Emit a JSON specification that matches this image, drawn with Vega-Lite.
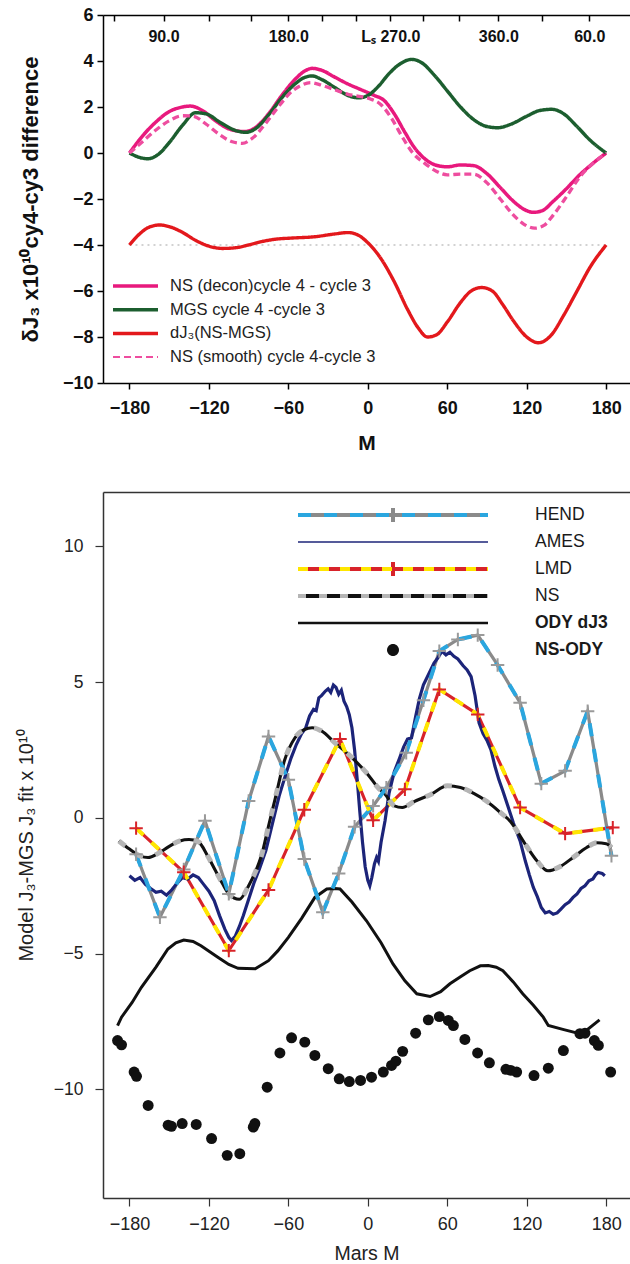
{
  "$schema": "https://vega.github.io/schema/vega-lite/v6.json",
  "padding": {"left": 16, "top": 6, "right": 0, "bottom": 2},
  "background": "white",
  "config": {
    "view": {"stroke": null},
    "font": "Liberation Sans",
    "axis": {"grid": false, "domainColor": "#000", "tickColor": "#000", "labelColor": "#111", "titleColor": "#111", "labelFont": "Liberation Sans", "titleFont": "Liberation Sans"},
    "legend": {"labelFont": "Liberation Sans"}
  },
  "datasets": {
    "a": [
      {"s":"NS (decon)cycle 4 - cycle 3","M":-180,"v":0},{"s":"NS (decon)cycle 4 - cycle 3","M":-170,"v":0.75},{"s":"NS (decon)cycle 4 - cycle 3","M":-160,"v":1.35},{"s":"NS (decon)cycle 4 - cycle 3","M":-150,"v":1.8},{"s":"NS (decon)cycle 4 - cycle 3","M":-140,"v":2.0},{"s":"NS (decon)cycle 4 - cycle 3","M":-134,"v":2.04},{"s":"NS (decon)cycle 4 - cycle 3","M":-125,"v":1.85},{"s":"NS (decon)cycle 4 - cycle 3","M":-115,"v":1.4},{"s":"NS (decon)cycle 4 - cycle 3","M":-105,"v":1.05},{"s":"NS (decon)cycle 4 - cycle 3","M":-93,"v":0.93},{"s":"NS (decon)cycle 4 - cycle 3","M":-85,"v":1.1},{"s":"NS (decon)cycle 4 - cycle 3","M":-75,"v":1.7},{"s":"NS (decon)cycle 4 - cycle 3","M":-65,"v":2.5},{"s":"NS (decon)cycle 4 - cycle 3","M":-55,"v":3.2},{"s":"NS (decon)cycle 4 - cycle 3","M":-48,"v":3.55},{"s":"NS (decon)cycle 4 - cycle 3","M":-42,"v":3.68},{"s":"NS (decon)cycle 4 - cycle 3","M":-35,"v":3.6},{"s":"NS (decon)cycle 4 - cycle 3","M":-25,"v":3.3},{"s":"NS (decon)cycle 4 - cycle 3","M":-15,"v":3.0},{"s":"NS (decon)cycle 4 - cycle 3","M":-5,"v":2.75},{"s":"NS (decon)cycle 4 - cycle 3","M":5,"v":2.5},{"s":"NS (decon)cycle 4 - cycle 3","M":12,"v":2.3},{"s":"NS (decon)cycle 4 - cycle 3","M":20,"v":1.7},{"s":"NS (decon)cycle 4 - cycle 3","M":28,"v":0.9},{"s":"NS (decon)cycle 4 - cycle 3","M":35,"v":0.25},{"s":"NS (decon)cycle 4 - cycle 3","M":42,"v":-0.2},{"s":"NS (decon)cycle 4 - cycle 3","M":50,"v":-0.5},{"s":"NS (decon)cycle 4 - cycle 3","M":60,"v":-0.6},{"s":"NS (decon)cycle 4 - cycle 3","M":70,"v":-0.52},{"s":"NS (decon)cycle 4 - cycle 3","M":80,"v":-0.55},{"s":"NS (decon)cycle 4 - cycle 3","M":90,"v":-0.9},{"s":"NS (decon)cycle 4 - cycle 3","M":100,"v":-1.5},{"s":"NS (decon)cycle 4 - cycle 3","M":110,"v":-2.1},{"s":"NS (decon)cycle 4 - cycle 3","M":118,"v":-2.45},{"s":"NS (decon)cycle 4 - cycle 3","M":125,"v":-2.58},{"s":"NS (decon)cycle 4 - cycle 3","M":132,"v":-2.5},{"s":"NS (decon)cycle 4 - cycle 3","M":140,"v":-2.1},{"s":"NS (decon)cycle 4 - cycle 3","M":150,"v":-1.55},{"s":"NS (decon)cycle 4 - cycle 3","M":160,"v":-0.95},{"s":"NS (decon)cycle 4 - cycle 3","M":170,"v":-0.45},{"s":"NS (decon)cycle 4 - cycle 3","M":180,"v":0},
      {"s":"MGS cycle 4 -cycle 3","M":-180,"v":0},{"s":"MGS cycle 4 -cycle 3","M":-172,"v":-0.2},{"s":"MGS cycle 4 -cycle 3","M":-166,"v":-0.25},{"s":"MGS cycle 4 -cycle 3","M":-158,"v":-0.05},{"s":"MGS cycle 4 -cycle 3","M":-150,"v":0.45},{"s":"MGS cycle 4 -cycle 3","M":-140,"v":1.2},{"s":"MGS cycle 4 -cycle 3","M":-130,"v":1.75},{"s":"MGS cycle 4 -cycle 3","M":-122,"v":1.7},{"s":"MGS cycle 4 -cycle 3","M":-112,"v":1.35},{"s":"MGS cycle 4 -cycle 3","M":-100,"v":0.98},{"s":"MGS cycle 4 -cycle 3","M":-92,"v":0.9},{"s":"MGS cycle 4 -cycle 3","M":-85,"v":1.05},{"s":"MGS cycle 4 -cycle 3","M":-75,"v":1.65},{"s":"MGS cycle 4 -cycle 3","M":-65,"v":2.4},{"s":"MGS cycle 4 -cycle 3","M":-55,"v":3.0},{"s":"MGS cycle 4 -cycle 3","M":-48,"v":3.28},{"s":"MGS cycle 4 -cycle 3","M":-42,"v":3.35},{"s":"MGS cycle 4 -cycle 3","M":-35,"v":3.2},{"s":"MGS cycle 4 -cycle 3","M":-25,"v":2.85},{"s":"MGS cycle 4 -cycle 3","M":-15,"v":2.5},{"s":"MGS cycle 4 -cycle 3","M":-7,"v":2.4},{"s":"MGS cycle 4 -cycle 3","M":0,"v":2.5},{"s":"MGS cycle 4 -cycle 3","M":8,"v":2.9},{"s":"MGS cycle 4 -cycle 3","M":16,"v":3.45},{"s":"MGS cycle 4 -cycle 3","M":25,"v":3.9},{"s":"MGS cycle 4 -cycle 3","M":33,"v":4.07},{"s":"MGS cycle 4 -cycle 3","M":40,"v":3.95},{"s":"MGS cycle 4 -cycle 3","M":50,"v":3.4},{"s":"MGS cycle 4 -cycle 3","M":60,"v":2.7},{"s":"MGS cycle 4 -cycle 3","M":70,"v":2.0},{"s":"MGS cycle 4 -cycle 3","M":80,"v":1.45},{"s":"MGS cycle 4 -cycle 3","M":90,"v":1.15},{"s":"MGS cycle 4 -cycle 3","M":98,"v":1.1},{"s":"MGS cycle 4 -cycle 3","M":108,"v":1.25},{"s":"MGS cycle 4 -cycle 3","M":120,"v":1.6},{"s":"MGS cycle 4 -cycle 3","M":130,"v":1.85},{"s":"MGS cycle 4 -cycle 3","M":139,"v":1.9},{"s":"MGS cycle 4 -cycle 3","M":148,"v":1.7},{"s":"MGS cycle 4 -cycle 3","M":158,"v":1.15},{"s":"MGS cycle 4 -cycle 3","M":168,"v":0.55},{"s":"MGS cycle 4 -cycle 3","M":180,"v":0},
      {"s":"dJ₃(NS-MGS)","M":-180,"v":-4.0},{"s":"dJ₃(NS-MGS)","M":-172,"v":-3.5},{"s":"dJ₃(NS-MGS)","M":-165,"v":-3.22},{"s":"dJ₃(NS-MGS)","M":-157,"v":-3.13},{"s":"dJ₃(NS-MGS)","M":-150,"v":-3.2},{"s":"dJ₃(NS-MGS)","M":-140,"v":-3.45},{"s":"dJ₃(NS-MGS)","M":-130,"v":-3.8},{"s":"dJ₃(NS-MGS)","M":-120,"v":-4.05},{"s":"dJ₃(NS-MGS)","M":-110,"v":-4.15},{"s":"dJ₃(NS-MGS)","M":-100,"v":-4.12},{"s":"dJ₃(NS-MGS)","M":-90,"v":-4.0},{"s":"dJ₃(NS-MGS)","M":-80,"v":-3.85},{"s":"dJ₃(NS-MGS)","M":-70,"v":-3.75},{"s":"dJ₃(NS-MGS)","M":-58,"v":-3.7},{"s":"dJ₃(NS-MGS)","M":-40,"v":-3.64},{"s":"dJ₃(NS-MGS)","M":-25,"v":-3.52},{"s":"dJ₃(NS-MGS)","M":-15,"v":-3.46},{"s":"dJ₃(NS-MGS)","M":-8,"v":-3.55},{"s":"dJ₃(NS-MGS)","M":0,"v":-3.9},{"s":"dJ₃(NS-MGS)","M":10,"v":-4.6},{"s":"dJ₃(NS-MGS)","M":20,"v":-5.6},{"s":"dJ₃(NS-MGS)","M":30,"v":-6.8},{"s":"dJ₃(NS-MGS)","M":38,"v":-7.6},{"s":"dJ₃(NS-MGS)","M":45,"v":-8.0},{"s":"dJ₃(NS-MGS)","M":52,"v":-7.9},{"s":"dJ₃(NS-MGS)","M":60,"v":-7.35},{"s":"dJ₃(NS-MGS)","M":70,"v":-6.5},{"s":"dJ₃(NS-MGS)","M":78,"v":-6.0},{"s":"dJ₃(NS-MGS)","M":86,"v":-5.85},{"s":"dJ₃(NS-MGS)","M":94,"v":-6.0},{"s":"dJ₃(NS-MGS)","M":102,"v":-6.6},{"s":"dJ₃(NS-MGS)","M":110,"v":-7.3},{"s":"dJ₃(NS-MGS)","M":120,"v":-8.0},{"s":"dJ₃(NS-MGS)","M":129,"v":-8.25},{"s":"dJ₃(NS-MGS)","M":138,"v":-7.95},{"s":"dJ₃(NS-MGS)","M":148,"v":-7.05},{"s":"dJ₃(NS-MGS)","M":158,"v":-6.0},{"s":"dJ₃(NS-MGS)","M":168,"v":-4.95},{"s":"dJ₃(NS-MGS)","M":180,"v":-4.0},
      {"s":"NS (smooth) cycle 4-cycle 3","M":-180,"v":0},{"s":"NS (smooth) cycle 4-cycle 3","M":-170,"v":0.5},{"s":"NS (smooth) cycle 4-cycle 3","M":-160,"v":1.0},{"s":"NS (smooth) cycle 4-cycle 3","M":-150,"v":1.4},{"s":"NS (smooth) cycle 4-cycle 3","M":-140,"v":1.62},{"s":"NS (smooth) cycle 4-cycle 3","M":-132,"v":1.6},{"s":"NS (smooth) cycle 4-cycle 3","M":-122,"v":1.25},{"s":"NS (smooth) cycle 4-cycle 3","M":-112,"v":0.8},{"s":"NS (smooth) cycle 4-cycle 3","M":-103,"v":0.5},{"s":"NS (smooth) cycle 4-cycle 3","M":-95,"v":0.42},{"s":"NS (smooth) cycle 4-cycle 3","M":-87,"v":0.65},{"s":"NS (smooth) cycle 4-cycle 3","M":-77,"v":1.3},{"s":"NS (smooth) cycle 4-cycle 3","M":-67,"v":2.05},{"s":"NS (smooth) cycle 4-cycle 3","M":-57,"v":2.7},{"s":"NS (smooth) cycle 4-cycle 3","M":-50,"v":2.95},{"s":"NS (smooth) cycle 4-cycle 3","M":-43,"v":3.06},{"s":"NS (smooth) cycle 4-cycle 3","M":-35,"v":2.95},{"s":"NS (smooth) cycle 4-cycle 3","M":-25,"v":2.75},{"s":"NS (smooth) cycle 4-cycle 3","M":-15,"v":2.55},{"s":"NS (smooth) cycle 4-cycle 3","M":-5,"v":2.45},{"s":"NS (smooth) cycle 4-cycle 3","M":2,"v":2.35},{"s":"NS (smooth) cycle 4-cycle 3","M":10,"v":2.1},{"s":"NS (smooth) cycle 4-cycle 3","M":18,"v":1.5},{"s":"NS (smooth) cycle 4-cycle 3","M":26,"v":0.7},{"s":"NS (smooth) cycle 4-cycle 3","M":34,"v":0.0},{"s":"NS (smooth) cycle 4-cycle 3","M":43,"v":-0.45},{"s":"NS (smooth) cycle 4-cycle 3","M":52,"v":-0.8},{"s":"NS (smooth) cycle 4-cycle 3","M":60,"v":-0.95},{"s":"NS (smooth) cycle 4-cycle 3","M":70,"v":-0.92},{"s":"NS (smooth) cycle 4-cycle 3","M":80,"v":-0.92},{"s":"NS (smooth) cycle 4-cycle 3","M":90,"v":-1.3},{"s":"NS (smooth) cycle 4-cycle 3","M":100,"v":-2.0},{"s":"NS (smooth) cycle 4-cycle 3","M":110,"v":-2.7},{"s":"NS (smooth) cycle 4-cycle 3","M":118,"v":-3.1},{"s":"NS (smooth) cycle 4-cycle 3","M":126,"v":-3.27},{"s":"NS (smooth) cycle 4-cycle 3","M":133,"v":-3.15},{"s":"NS (smooth) cycle 4-cycle 3","M":140,"v":-2.7},{"s":"NS (smooth) cycle 4-cycle 3","M":150,"v":-1.9},{"s":"NS (smooth) cycle 4-cycle 3","M":160,"v":-1.05},{"s":"NS (smooth) cycle 4-cycle 3","M":170,"v":-0.45},{"s":"NS (smooth) cycle 4-cycle 3","M":180,"v":0}
    ],
    "b": [
      {"s":"HEND","M":-175,"v":-1.34},{"s":"HEND","M":-157,"v":-3.66},{"s":"HEND","M":-139,"v":-1.9},{"s":"HEND","M":-123,"v":-0.11},{"s":"HEND","M":-105,"v":-2.8},{"s":"HEND","M":-90,"v":0.62},{"s":"HEND","M":-75,"v":3.0},{"s":"HEND","M":-60,"v":1.4},{"s":"HEND","M":-48,"v":-1.52},{"s":"HEND","M":-34,"v":-3.48},{"s":"HEND","M":-22,"v":-2.05},{"s":"HEND","M":-10,"v":-0.33},{"s":"HEND","M":4,"v":0.44},{"s":"HEND","M":14,"v":1.11},{"s":"HEND","M":29,"v":2.4},{"s":"HEND","M":42,"v":4.33},{"s":"HEND","M":54,"v":6.14},{"s":"HEND","M":68,"v":6.57},{"s":"HEND","M":83,"v":6.73},{"s":"HEND","M":98,"v":5.63},{"s":"HEND","M":115,"v":4.24},{"s":"HEND","M":131,"v":1.26},{"s":"HEND","M":149,"v":1.73},{"s":"HEND","M":166,"v":3.93},{"s":"HEND","M":184,"v":-1.4},
      {"s":"LMD","M":-175,"v":-0.38},{"s":"LMD","M":-139,"v":-2.0},{"s":"LMD","M":-105,"v":-4.89},{"s":"LMD","M":-75,"v":-2.66},{"s":"LMD","M":-48,"v":0.3},{"s":"LMD","M":-21,"v":2.9},{"s":"LMD","M":4,"v":-0.09},{"s":"LMD","M":28,"v":1.05},{"s":"LMD","M":54,"v":4.73},{"s":"LMD","M":83,"v":3.81},{"s":"LMD","M":115,"v":0.38},{"s":"LMD","M":149,"v":-0.58},{"s":"LMD","M":185,"v":-0.36},
      {"s":"NS","M":-188,"v":-0.85},{"s":"NS","M":-180,"v":-1.15},{"s":"NS","M":-172,"v":-1.4},{"s":"NS","M":-166,"v":-1.46},{"s":"NS","M":-158,"v":-1.3},{"s":"NS","M":-150,"v":-1.05},{"s":"NS","M":-142,"v":-0.85},{"s":"NS","M":-135,"v":-0.8},{"s":"NS","M":-128,"v":-0.88},{"s":"NS","M":-121,"v":-1.4},{"s":"NS","M":-115,"v":-1.95},{"s":"NS","M":-110,"v":-2.4},{"s":"NS","M":-105,"v":-2.8},{"s":"NS","M":-97,"v":-3.0},{"s":"NS","M":-90,"v":-2.5},{"s":"NS","M":-85,"v":-2.0},{"s":"NS","M":-80,"v":-1.33},{"s":"NS","M":-75,"v":-0.3},{"s":"NS","M":-70,"v":0.7},{"s":"NS","M":-63,"v":2.1},{"s":"NS","M":-55,"v":2.95},{"s":"NS","M":-48,"v":3.25},{"s":"NS","M":-42,"v":3.32},{"s":"NS","M":-35,"v":3.2},{"s":"NS","M":-25,"v":2.77},{"s":"NS","M":-12,"v":2.22},{"s":"NS","M":0,"v":1.6},{"s":"NS","M":8,"v":1.1},{"s":"NS","M":13,"v":0.87},{"s":"NS","M":20,"v":0.44},{"s":"NS","M":26,"v":0.38},{"s":"NS","M":35,"v":0.6},{"s":"NS","M":48,"v":0.87},{"s":"NS","M":60,"v":1.18},{"s":"NS","M":70,"v":1.12},{"s":"NS","M":80,"v":0.9},{"s":"NS","M":90,"v":0.6},{"s":"NS","M":100,"v":0.2},{"s":"NS","M":108,"v":-0.15},{"s":"NS","M":118,"v":-0.9},{"s":"NS","M":128,"v":-1.6},{"s":"NS","M":136,"v":-1.95},{"s":"NS","M":145,"v":-1.8},{"s":"NS","M":155,"v":-1.46},{"s":"NS","M":165,"v":-1.1},{"s":"NS","M":173,"v":-0.92},{"s":"NS","M":180,"v":-0.95},{"s":"NS","M":184,"v":-1.09},
      {"s":"AMES","M":-180,"v":-2.13},{"s":"AMES","M":-176,"v":-2.3},{"s":"AMES","M":-172,"v":-2.2},{"s":"AMES","M":-168,"v":-2.45},{"s":"AMES","M":-164,"v":-2.6},{"s":"AMES","M":-160,"v":-2.74},{"s":"AMES","M":-156,"v":-2.7},{"s":"AMES","M":-152,"v":-2.85},{"s":"AMES","M":-148,"v":-2.65},{"s":"AMES","M":-144,"v":-2.4},{"s":"AMES","M":-140,"v":-2.2},{"s":"AMES","M":-136,"v":-2.25},{"s":"AMES","M":-132,"v":-2.1},{"s":"AMES","M":-128,"v":-2.2},{"s":"AMES","M":-124,"v":-2.45},{"s":"AMES","M":-120,"v":-2.7},{"s":"AMES","M":-116,"v":-3.05},{"s":"AMES","M":-112,"v":-3.6},{"s":"AMES","M":-108,"v":-4.1},{"s":"AMES","M":-105,"v":-4.4},{"s":"AMES","M":-103,"v":-4.52},{"s":"AMES","M":-100,"v":-4.35},{"s":"AMES","M":-97,"v":-4.0},{"s":"AMES","M":-94,"v":-3.6},{"s":"AMES","M":-90,"v":-3.0},{"s":"AMES","M":-86,"v":-2.4},{"s":"AMES","M":-82,"v":-1.9},{"s":"AMES","M":-77,"v":-1.2},{"s":"AMES","M":-72,"v":-0.2},{"s":"AMES","M":-67,"v":0.8},{"s":"AMES","M":-62,"v":1.6},{"s":"AMES","M":-58,"v":2.2},{"s":"AMES","M":-54,"v":2.7},{"s":"AMES","M":-50,"v":3.1},{"s":"AMES","M":-47,"v":3.3},{"s":"AMES","M":-44,"v":3.75},{"s":"AMES","M":-41,"v":4.0},{"s":"AMES","M":-39,"v":3.95},{"s":"AMES","M":-37,"v":4.42},{"s":"AMES","M":-35,"v":4.5},{"s":"AMES","M":-32,"v":4.67},{"s":"AMES","M":-30,"v":4.75},{"s":"AMES","M":-28,"v":4.62},{"s":"AMES","M":-26,"v":4.89},{"s":"AMES","M":-24,"v":4.8},{"s":"AMES","M":-22,"v":4.55},{"s":"AMES","M":-20,"v":4.7},{"s":"AMES","M":-18,"v":4.3},{"s":"AMES","M":-16,"v":4.1},{"s":"AMES","M":-14,"v":3.8},{"s":"AMES","M":-12,"v":3.32},{"s":"AMES","M":-10,"v":2.5},{"s":"AMES","M":-8,"v":1.4},{"s":"AMES","M":-6,"v":0.2},{"s":"AMES","M":-4,"v":-0.9},{"s":"AMES","M":-2,"v":-1.8},{"s":"AMES","M":0,"v":-2.3},{"s":"AMES","M":1.5,"v":-2.5},{"s":"AMES","M":3,"v":-2.2},{"s":"AMES","M":5,"v":-1.7},{"s":"AMES","M":6.6,"v":-1.46},{"s":"AMES","M":8,"v":-1.6},{"s":"AMES","M":10,"v":-0.9},{"s":"AMES","M":13,"v":-0.11},{"s":"AMES","M":16,"v":0.9},{"s":"AMES","M":20,"v":1.7},{"s":"AMES","M":24,"v":2.2},{"s":"AMES","M":27,"v":2.6},{"s":"AMES","M":30,"v":2.9},{"s":"AMES","M":33,"v":2.95},{"s":"AMES","M":36,"v":3.7},{"s":"AMES","M":39,"v":4.4},{"s":"AMES","M":42,"v":4.9},{"s":"AMES","M":46,"v":5.3},{"s":"AMES","M":50,"v":5.7},{"s":"AMES","M":53,"v":5.9},{"s":"AMES","M":56,"v":6.14},{"s":"AMES","M":59,"v":6.0},{"s":"AMES","M":62,"v":6.1},{"s":"AMES","M":65,"v":5.95},{"s":"AMES","M":68,"v":5.85},{"s":"AMES","M":72,"v":5.6},{"s":"AMES","M":75,"v":5.45},{"s":"AMES","M":78,"v":5.2},{"s":"AMES","M":81,"v":4.5},{"s":"AMES","M":84,"v":3.5},{"s":"AMES","M":87,"v":3.1},{"s":"AMES","M":90,"v":2.85},{"s":"AMES","M":93,"v":2.5},{"s":"AMES","M":96,"v":1.9},{"s":"AMES","M":99,"v":1.4},{"s":"AMES","M":102,"v":0.99},{"s":"AMES","M":106,"v":0.4},{"s":"AMES","M":110,"v":-0.2},{"s":"AMES","M":115,"v":-0.85},{"s":"AMES","M":119,"v":-1.6},{"s":"AMES","M":122,"v":-2.1},{"s":"AMES","M":125,"v":-2.56},{"s":"AMES","M":128,"v":-2.9},{"s":"AMES","M":131,"v":-3.3},{"s":"AMES","M":134,"v":-3.5},{"s":"AMES","M":137,"v":-3.45},{"s":"AMES","M":140,"v":-3.55},{"s":"AMES","M":143,"v":-3.5},{"s":"AMES","M":146,"v":-3.35},{"s":"AMES","M":149,"v":-3.2},{"s":"AMES","M":152,"v":-3.1},{"s":"AMES","M":155,"v":-2.93},{"s":"AMES","M":158,"v":-2.8},{"s":"AMES","M":161,"v":-2.6},{"s":"AMES","M":164,"v":-2.5},{"s":"AMES","M":167,"v":-2.32},{"s":"AMES","M":170,"v":-2.25},{"s":"AMES","M":172,"v":-2.1},{"s":"AMES","M":174,"v":-2.01},{"s":"AMES","M":177,"v":-2.05},{"s":"AMES","M":179,"v":-2.13},
      {"s":"ODY dJ3","M":-189,"v":-7.65},{"s":"ODY dJ3","M":-186,"v":-7.34},{"s":"ODY dJ3","M":-178,"v":-6.8},{"s":"ODY dJ3","M":-171,"v":-6.24},{"s":"ODY dJ3","M":-160,"v":-5.5},{"s":"ODY dJ3","M":-151,"v":-4.83},{"s":"ODY dJ3","M":-145,"v":-4.6},{"s":"ODY dJ3","M":-139,"v":-4.5},{"s":"ODY dJ3","M":-132,"v":-4.55},{"s":"ODY dJ3","M":-126,"v":-4.71},{"s":"ODY dJ3","M":-113,"v":-5.14},{"s":"ODY dJ3","M":-105,"v":-5.4},{"s":"ODY dJ3","M":-98,"v":-5.54},{"s":"ODY dJ3","M":-85,"v":-5.56},{"s":"ODY dJ3","M":-75,"v":-5.26},{"s":"ODY dJ3","M":-68,"v":-4.9},{"s":"ODY dJ3","M":-60,"v":-4.4},{"s":"ODY dJ3","M":-50,"v":-3.7},{"s":"ODY dJ3","M":-40,"v":-2.93},{"s":"ODY dJ3","M":-31,"v":-2.62},{"s":"ODY dJ3","M":-25,"v":-2.6},{"s":"ODY dJ3","M":-21,"v":-2.62},{"s":"ODY dJ3","M":-12,"v":-3.1},{"s":"ODY dJ3","M":-1,"v":-3.79},{"s":"ODY dJ3","M":10,"v":-4.6},{"s":"ODY dJ3","M":19,"v":-5.38},{"s":"ODY dJ3","M":28,"v":-6.0},{"s":"ODY dJ3","M":37,"v":-6.48},{"s":"ODY dJ3","M":47,"v":-6.58},{"s":"ODY dJ3","M":55,"v":-6.4},{"s":"ODY dJ3","M":62,"v":-6.11},{"s":"ODY dJ3","M":70,"v":-5.85},{"s":"ODY dJ3","M":77,"v":-5.63},{"s":"ODY dJ3","M":85,"v":-5.45},{"s":"ODY dJ3","M":91,"v":-5.44},{"s":"ODY dJ3","M":97,"v":-5.5},{"s":"ODY dJ3","M":102,"v":-5.63},{"s":"ODY dJ3","M":110,"v":-6.05},{"s":"ODY dJ3","M":117,"v":-6.48},{"s":"ODY dJ3","M":125,"v":-6.9},{"s":"ODY dJ3","M":132.5,"v":-7.34},{"s":"ODY dJ3","M":136.3,"v":-7.65},{"s":"ODY dJ3","M":148,"v":-7.8},{"s":"ODY dJ3","M":160,"v":-7.95},{"s":"ODY dJ3","M":165,"v":-7.83},{"s":"ODY dJ3","M":175,"v":-7.44},
      {"s":"NS-ODY","M":-189,"v":-8.2},{"s":"NS-ODY","M":-186,"v":-8.36},{"s":"NS-ODY","M":-176.5,"v":-9.36},{"s":"NS-ODY","M":-174.7,"v":-9.52},{"s":"NS-ODY","M":-165.9,"v":-10.59},{"s":"NS-ODY","M":-150.8,"v":-11.32},{"s":"NS-ODY","M":-148.3,"v":-11.36},{"s":"NS-ODY","M":-140.2,"v":-11.26},{"s":"NS-ODY","M":-129.6,"v":-11.29},{"s":"NS-ODY","M":-118,"v":-11.81},{"s":"NS-ODY","M":-106.2,"v":-12.43},{"s":"NS-ODY","M":-96.7,"v":-12.37},{"s":"NS-ODY","M":-86.5,"v":-11.39},{"s":"NS-ODY","M":-85.3,"v":-11.26},{"s":"NS-ODY","M":-76,"v":-9.92},{"s":"NS-ODY","M":-66.4,"v":-8.66},{"s":"NS-ODY","M":-57.6,"v":-8.1},{"s":"NS-ODY","M":-47.6,"v":-8.26},{"s":"NS-ODY","M":-40,"v":-8.75},{"s":"NS-ODY","M":-29.9,"v":-9.24},{"s":"NS-ODY","M":-21.6,"v":-9.61},{"s":"NS-ODY","M":-14,"v":-9.71},{"s":"NS-ODY","M":-5.5,"v":-9.67},{"s":"NS-ODY","M":2.8,"v":-9.55},{"s":"NS-ODY","M":11.7,"v":-9.36},{"s":"NS-ODY","M":17.9,"v":-9.12},{"s":"NS-ODY","M":21.2,"v":-8.96},{"s":"NS-ODY","M":26.3,"v":-8.6},{"s":"NS-ODY","M":36.1,"v":-7.93},{"s":"NS-ODY","M":45.7,"v":-7.44},{"s":"NS-ODY","M":54,"v":-7.32},{"s":"NS-ODY","M":60.8,"v":-7.46},{"s":"NS-ODY","M":64.6,"v":-7.65},{"s":"NS-ODY","M":73.3,"v":-8.16},{"s":"NS-ODY","M":82.9,"v":-8.66},{"s":"NS-ODY","M":91.8,"v":-9.02},{"s":"NS-ODY","M":104.3,"v":-9.26},{"s":"NS-ODY","M":108,"v":-9.3},{"s":"NS-ODY","M":112.4,"v":-9.36},{"s":"NS-ODY","M":125.5,"v":-9.49},{"s":"NS-ODY","M":136.3,"v":-9.22},{"s":"NS-ODY","M":147.7,"v":-8.57},{"s":"NS-ODY","M":160.2,"v":-7.95},{"s":"NS-ODY","M":164,"v":-7.93},{"s":"NS-ODY","M":171.1,"v":-8.2},{"s":"NS-ODY","M":174.1,"v":-8.38},{"s":"NS-ODY","M":183.4,"v":-9.36}
    ]
  },
  "vconcat": [
    {
      "width": 527,
      "height": 368,
      "resolve": {"axis": {"x": "independent"}},
      "layer": [
        {
          "data": {"values": [{}]},
          "mark": {"type": "rule", "color": "#c4c4c4", "strokeDash": [2, 4], "strokeWidth": 1.5},
          "encoding": {
            "x": {"datum": -180, "type": "quantitative", "scale": {"domain": [-200, 198], "nice": false, "zero": false},
              "axis": {"orient": "top", "title": null, "values": [-192, -154.3, -119.6, -87.9, -60, -34.3, -8.7, 17, 41.9, 69, 98.5, 131.7, 167.2],
                "labelExpr": "datum.value == -154.3 ? '90.0' : datum.value == -60 ? '180.0' : datum.value == 17 ? 'Lₛ 270.0' : datum.value == 98.5 ? '360.0' : datum.value == 167.2 ? '60.0' : ''",
                "tickSize": -6, "tickWidth": 1.5, "domainWidth": 1.5, "labelPadding": -7, "labelBaseline": "top", "labelFontSize": 16, "labelFontWeight": "bold", "labelFlush": false, "labelOverlap": false,
                "encode": {"labels": {"update": {"dx": {"signal": "datum.value == 17 ? -10 : 0"}}}}}},
            "x2": {"datum": 180},
            "y": {"datum": -4, "type": "quantitative", "scale": {"domain": [-10, 6], "nice": false, "zero": false}}
          }
        },
        {
          "data": {"name": "a"},
          "mark": {"type": "line", "interpolate": "monotone"},
          "encoding": {
            "x": {"field": "M", "type": "quantitative", "scale": {"domain": [-200, 198], "nice": false, "zero": false},
              "axis": {"values": [-180, -120, -60, 0, 60, 120, 180], "tickSize": 6, "tickWidth": 1.5, "domainWidth": 1.5, "labelPadding": 10, "labelFontSize": 18, "labelFontWeight": "bold", "labelFlush": false, "title": "M", "titleFontSize": 21, "titleFontWeight": "bold", "titlePadding": 15}},
            "y": {"field": "v", "type": "quantitative", "scale": {"domain": [-10, 6], "nice": false, "zero": false},
              "axis": {"values": [-10, -8, -6, -4, -2, 0, 2, 4, 6], "tickSize": 6, "tickWidth": 1.5, "domainWidth": 1.5, "labelPadding": 4, "labelFontSize": 18, "labelFontWeight": "bold", "labelFlush": false, "title": "δJ₃ x10¹⁰cy4-cy3 difference", "titleFontSize": 22, "titleFontWeight": "bold", "titlePadding": 20}},
            "stroke": {"field": "s", "type": "nominal",
              "scale": {"domain": ["NS (decon)cycle 4 - cycle 3", "MGS cycle 4 -cycle 3", "dJ₃(NS-MGS)", "NS (smooth) cycle 4-cycle 3"], "range": ["#e8197d", "#1c5e2f", "#e3181c", "#ee4d9f"]},
              "legend": {"title": null, "orient": "none", "legendX": 10, "legendY": 262, "padding": 0, "clipHeight": 18, "symbolType": "M-8.25,0H36.75", "symbolSize": 4, "symbolStrokeWidth": 3.5, "labelFontSize": 16.5, "labelColor": "#222", "labelOffset": 40.5, "labelLimit": 400, "rowPadding": 5.7,
                "encode": {"symbols": {"update": {"strokeDash": {"signal": "datum.value === 'NS (smooth) cycle 4-cycle 3' ? [7, 4] : [1, 0]"}, "strokeWidth": {"signal": "(datum.value === 'NS (smooth) cycle 4-cycle 3' ? 2 : 3.5)"}}}}}},
            "strokeDash": {"field": "s", "type": "nominal", "legend": null,
              "scale": {"domain": ["NS (decon)cycle 4 - cycle 3", "MGS cycle 4 -cycle 3", "dJ₃(NS-MGS)", "NS (smooth) cycle 4-cycle 3"], "range": [[1, 0], [1, 0], [1, 0], [7, 4]]}},
            "strokeWidth": {"field": "s", "type": "nominal", "legend": null,
              "scale": {"domain": ["NS (decon)cycle 4 - cycle 3", "MGS cycle 4 -cycle 3", "dJ₃(NS-MGS)", "NS (smooth) cycle 4-cycle 3"], "range": [3.5, 3, 3.5, 2]}}
          }
        }
      ]
    },
    {
      "width": 527,
      "height": 706,
      "resolve": {"scale": {"stroke": "independent"}, "axis": {"x": "independent"}},
      "layer": [
        {
          "data": {"name": "b"},
          "layer": [
            {
              "transform": [{"filter": "datum.s === 'HEND' || datum.s === 'AMES' || datum.s === 'LMD' || datum.s === 'ODY dJ3'"}],
              "mark": {"type": "line", "interpolate": "linear"},
              "encoding": {
                "x": {"field": "M", "type": "quantitative", "scale": {"domain": [-200, 198], "nice": false, "zero": false},
                  "axis": {"values": [-180, -120, -60, 0, 60, 120, 180], "tickSize": 8, "tickWidth": 1.2, "domainWidth": 1.5, "domainColor": "#333", "tickColor": "#333", "labelPadding": 9, "labelFontSize": 18, "labelColor": "#222", "labelFlush": false, "title": "Mars M", "titleFontSize": 19.5, "titleFontWeight": "normal", "titleColor": "#222", "titlePadding": 11}},
                "y": {"field": "v", "type": "quantitative", "scale": {"domain": [-14, 12], "nice": false, "zero": false},
                  "axis": {"values": [-10, -5, 0, 5, 10], "tickSize": 8, "tickWidth": 1.2, "domainWidth": 1.5, "domainColor": "#333", "tickColor": "#333", "labelPadding": 12, "labelFontSize": 17.5, "labelColor": "#222", "labelFlush": false, "title": "Model J₃-MGS J₃ fit x 10¹⁰", "titleFontSize": 20, "titleFontWeight": "normal", "titleColor": "#222", "titlePadding": 16.5}},
                "stroke": {"field": "s", "type": "nominal",
                  "scale": {"domain": ["HEND", "AMES", "LMD", "NS", "ODY dJ3", "NS-ODY"], "range": ["#8a8a8a", "#1c2479", "#d8232a", "#111111", "#111111", "#111111"]},
                  "legend": {"title": null, "orient": "none", "legendX": 195, "legendY": 12, "padding": 0, "clipHeight": 22, "symbolType": "M-8.75,0H181.25", "symbolSize": 4, "symbolStrokeWidth": 4, "labelFontSize": 17.5, "labelColor": "#1a1a1a", "labelOffset": 219.5, "rowPadding": 5,
                    "encode": {
                      "symbols": {"update": {
                        "shape": {"signal": "datum.value === 'NS-ODY' ? 'M80.25,0A6,6,0,1,0,92.25,0A6,6,0,1,0,80.25,0Z' : (datum.value === 'HEND' || datum.value === 'LMD') ? 'M-8.75,0H181.25M86.25,-7V7' : 'M-8.75,0H181.25'"},
                        "fill": {"signal": "datum.value === 'NS-ODY' ? '#111111' : 'transparent'"},
                        "strokeWidth": {"signal": "(datum.value === 'AMES' ? 1.5 : datum.value === 'ODY dJ3' ? 2.5 : datum.value === 'NS-ODY' ? 0 : 4)"}}},
                      "labels": {"update": {"fontWeight": {"signal": "datum.value === 'ODY dJ3' || datum.value === 'NS-ODY' ? 'bold' : 'normal'"}}}}}},
                "strokeWidth": {"field": "s", "type": "nominal", "legend": null,
                  "scale": {"domain": ["HEND", "AMES", "LMD", "NS", "ODY dJ3"], "range": [4, 1.6, 4, 5, 2]}}
              }
            },
            {
              "transform": [{"filter": "datum.s === 'NS'"}],
              "mark": {"type": "line", "interpolate": "monotone"},
              "encoding": {
                "x": {"field": "M", "type": "quantitative", "scale": {"domain": [-200, 198], "nice": false, "zero": false},
                  "axis": {"values": [-180, -120, -60, 0, 60, 120, 180], "tickSize": 8, "tickWidth": 1.2, "domainWidth": 1.5, "domainColor": "#333", "tickColor": "#333", "labelPadding": 9, "labelFontSize": 18, "labelColor": "#222", "labelFlush": false, "title": "Mars M", "titleFontSize": 19.5, "titleFontWeight": "normal", "titleColor": "#222", "titlePadding": 11}},
                "y": {"field": "v", "type": "quantitative", "scale": {"domain": [-14, 12], "nice": false, "zero": false}},
                "stroke": {"field": "s", "type": "nominal",
                  "scale": {"domain": ["HEND", "AMES", "LMD", "NS", "ODY dJ3", "NS-ODY"], "range": ["#8a8a8a", "#1c2479", "#d8232a", "#111111", "#111111", "#111111"]}},
                "strokeWidth": {"field": "s", "type": "nominal", "legend": null,
                  "scale": {"domain": ["HEND", "AMES", "LMD", "NS", "ODY dJ3"], "range": [4, 1.6, 4, 5, 2]}}
              }
            }
          ]
        },
        {
          "data": {"name": "b"},
          "layer": [
            {
              "transform": [{"filter": "datum.s === 'HEND'"}],
              "mark": {"type": "line", "interpolate": "linear", "strokeDash": [13, 13], "strokeWidth": 4},
              "encoding": {
                "x": {"field": "M", "type": "quantitative", "scale": {"domain": [-200, 198], "nice": false, "zero": false},
                  "axis": {"orient": "top", "title": null, "labels": false, "ticks": false, "domain": true, "domainColor": "#333", "domainWidth": 1.5, "grid": false}},
                "y": {"field": "v", "type": "quantitative", "scale": {"domain": [-14, 12], "nice": false, "zero": false}},
                "stroke": {"field": "s", "type": "nominal",
                  "scale": {"domain": ["HEND", "AMES", "LMD", "NS", "ODY dJ3", "NS-ODY"], "range": ["#2aa6df", "transparent", "#ffe600", "#b5b5b5", "transparent", "transparent"]},
                  "legend": {"title": null, "orient": "none", "legendX": 195, "legendY": 12, "padding": 0, "clipHeight": 22, "symbolType": "M-8.75,0H181.25", "symbolSize": 4, "symbolStrokeWidth": 4, "labelFontSize": 17.5, "labelExpr": "''", "labelOffset": 219.5, "rowPadding": 5,
                    "encode": {
                      "symbols": {"update": {"strokeDash": {"signal": "datum.value === 'HEND' ? [13, 13] : datum.value === 'LMD' ? [10, 11] : [8, 13]"}}}}}}
              }
            },
            {
              "transform": [{"filter": "datum.s === 'LMD'"}],
              "mark": {"type": "line", "interpolate": "linear", "strokeDash": [10, 11], "strokeWidth": 4},
              "encoding": {
                "x": {"field": "M", "type": "quantitative", "scale": {"domain": [-200, 198], "nice": false, "zero": false},
                  "axis": {"orient": "top", "title": null, "labels": false, "ticks": false, "domain": true, "domainColor": "#333", "domainWidth": 1.5, "grid": false}},
                "y": {"field": "v", "type": "quantitative", "scale": {"domain": [-14, 12], "nice": false, "zero": false}},
                "stroke": {"field": "s", "type": "nominal",
                  "scale": {"domain": ["HEND", "AMES", "LMD", "NS", "ODY dJ3", "NS-ODY"], "range": ["#2aa6df", "transparent", "#ffe600", "#b5b5b5", "transparent", "transparent"]}}
              }
            },
            {
              "transform": [{"filter": "datum.s === 'NS'"}],
              "mark": {"type": "line", "interpolate": "monotone", "strokeDash": [8, 13], "strokeWidth": 5},
              "encoding": {
                "x": {"field": "M", "type": "quantitative", "scale": {"domain": [-200, 198], "nice": false, "zero": false},
                  "axis": {"orient": "top", "title": null, "labels": false, "ticks": false, "domain": true, "domainColor": "#333", "domainWidth": 1.5, "grid": false}},
                "y": {"field": "v", "type": "quantitative", "scale": {"domain": [-14, 12], "nice": false, "zero": false}},
                "stroke": {"field": "s", "type": "nominal",
                  "scale": {"domain": ["HEND", "AMES", "LMD", "NS", "ODY dJ3", "NS-ODY"], "range": ["#2aa6df", "transparent", "#ffe600", "#b5b5b5", "transparent", "transparent"]}}
              }
            }
          ]
        },
        {
          "data": {"name": "b"},
          "transform": [{"filter": "datum.s === 'HEND' || datum.s === 'LMD'"}],
          "mark": {"type": "point", "shape": "M-1,0H1M0,-1V1", "filled": false, "size": 180, "strokeWidth": 2, "opacity": 1},
          "encoding": {
            "x": {"field": "M", "type": "quantitative", "scale": {"domain": [-200, 198], "nice": false, "zero": false}, "axis": null},
            "y": {"field": "v", "type": "quantitative", "scale": {"domain": [-14, 12], "nice": false, "zero": false}},
            "stroke": {"condition": {"test": "datum.s === 'LMD'", "value": "#d8232a"}, "value": "#9a9a9a"}
          }
        },
        {
          "data": {"name": "b"},
          "transform": [{"filter": "datum.s === 'NS-ODY'"}],
          "mark": {"type": "point", "filled": true, "size": 120, "color": "#111111", "opacity": 1},
          "encoding": {
            "x": {"field": "M", "type": "quantitative", "scale": {"domain": [-200, 198], "nice": false, "zero": false}, "axis": null},
            "y": {"field": "v", "type": "quantitative", "scale": {"domain": [-14, 12], "nice": false, "zero": false}}
          }
        }
      ]
    }
  ],
  "spacing": 39
}
